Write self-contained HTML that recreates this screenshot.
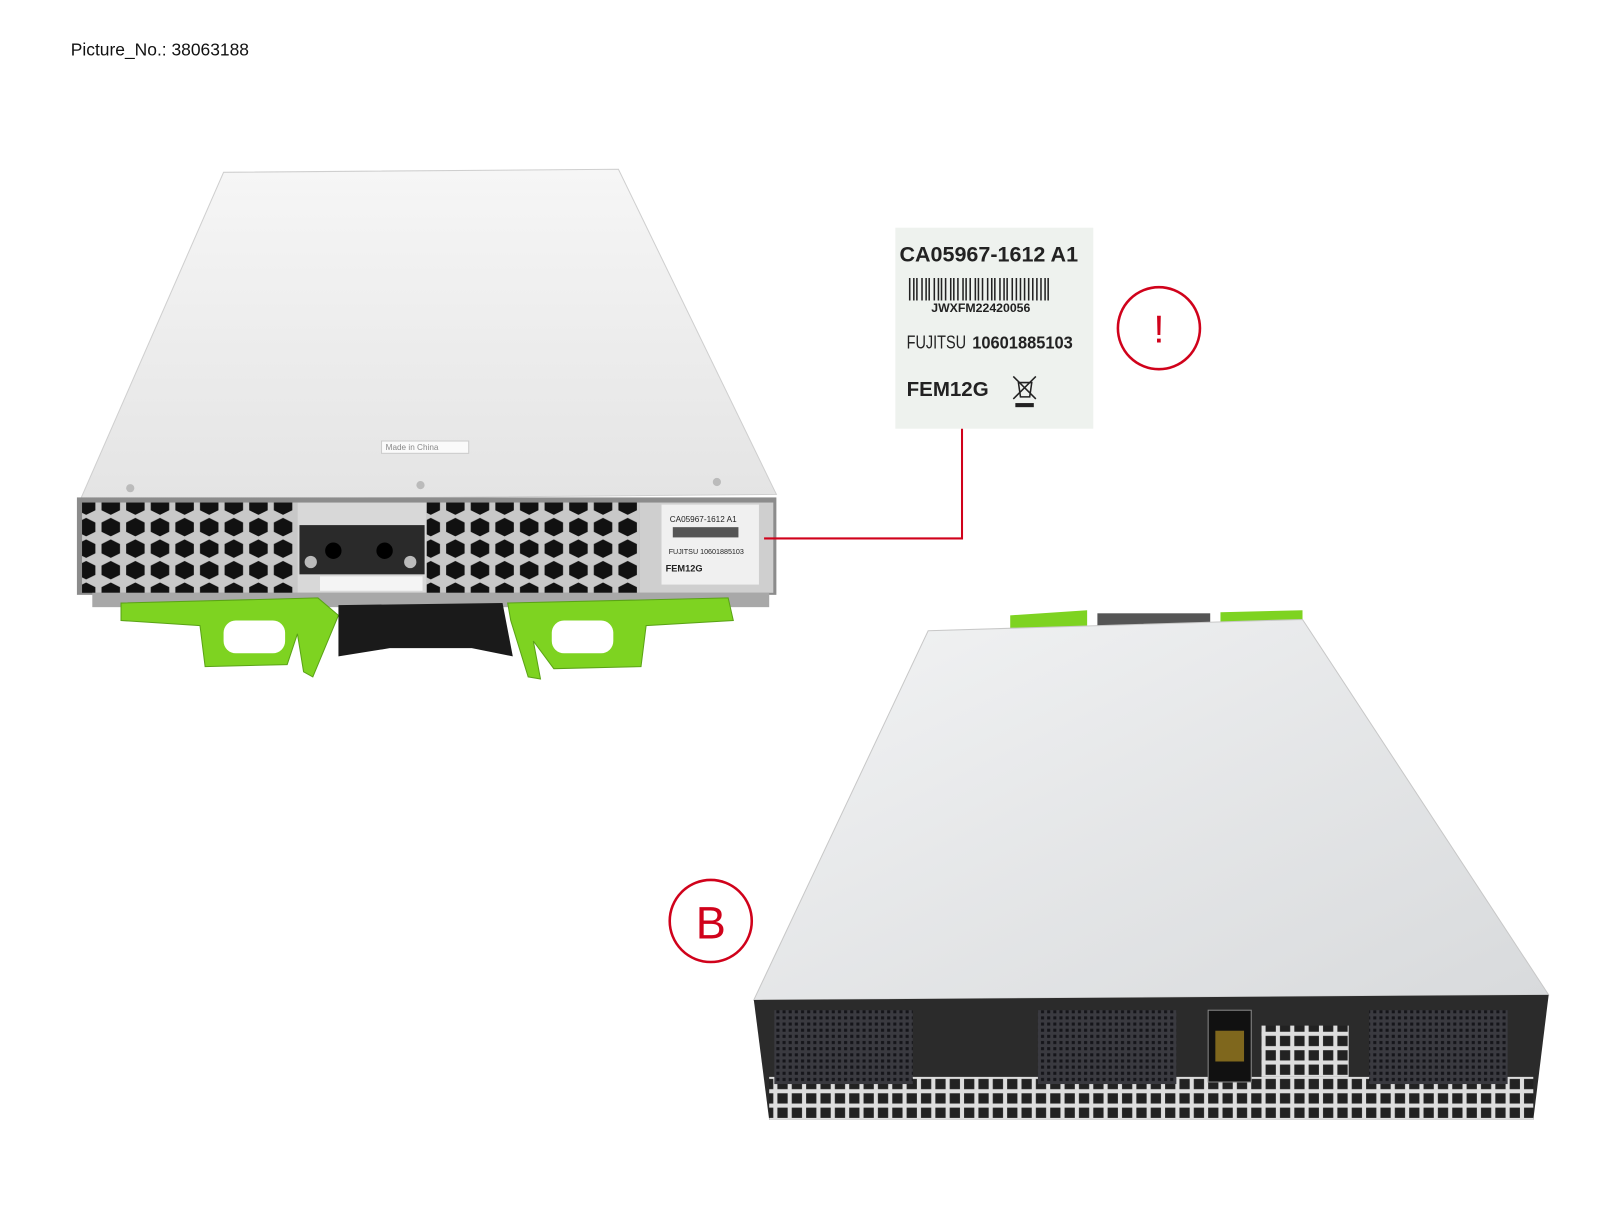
<!DOCTYPE html>
<html><head><meta charset="utf-8">
<style>
html,body{margin:0;padding:0;background:#fff;}
body{width:1600px;height:1200px;overflow:hidden;position:relative;font-family:"Liberation Sans",sans-serif;}
</style></head>
<body>
<svg width="1600" height="1200" viewBox="0 0 1600 1200" xmlns="http://www.w3.org/2000/svg">
<defs>
<linearGradient id="top1" x1="0" y1="0" x2="0" y2="1">
<stop offset="0" stop-color="#f6f6f6"/><stop offset="1" stop-color="#e4e4e4"/></linearGradient>
<linearGradient id="top2" x1="0" y1="0" x2="1" y2="1">
<stop offset="0" stop-color="#f2f3f4"/><stop offset="1" stop-color="#d8dadc"/></linearGradient>
<pattern id="hex" width="24" height="21" patternUnits="userSpaceOnUse">
<rect width="24" height="21" fill="#c8c8c8"/>
<polygon points="12,1 21,5.5 21,14.5 12,19 3,14.5 3,5.5" fill="#111"/>
</pattern>
<pattern id="grid" width="14" height="14" patternUnits="userSpaceOnUse">
<rect width="14" height="14" fill="#ddd"/><rect x="2" y="2" width="10" height="10" fill="#222"/>
</pattern>
<pattern id="conn" width="6" height="6" patternUnits="userSpaceOnUse">
<rect width="6" height="6" fill="#3a3a40"/><rect x="1" y="1" width="3" height="3" fill="#15151a"/>
</pattern>
</defs>
<g transform="scale(1.0256)">
<text x="69" y="54" font-size="17" fill="#111">Picture_No.: 38063188</text>

<polygon points="218,168 603,165 757,482 78,488" fill="url(#top1)" stroke="#cfcfcf"/>
<rect x="372" y="430" width="85" height="12" fill="#fafafa" stroke="#ccc"/>
<text x="376" y="439" font-size="8" fill="#888">Made in China</text>
<circle cx="127" cy="476" r="4" fill="#bbb"/><circle cx="410" cy="473" r="4" fill="#bbb"/><circle cx="699" cy="470" r="4" fill="#bbb"/>
<rect x="75" y="485" width="682" height="95" fill="#8c8c8c"/>
<rect x="80" y="490" width="210" height="88" fill="url(#hex)"/>
<rect x="416" y="490" width="208" height="88" fill="url(#hex)"/>
<rect x="290" y="490" width="126" height="88" fill="#d8d8d8"/>
<rect x="292" y="512" width="122" height="48" fill="#2a2a2a"/>
<circle cx="325" cy="537" r="8" fill="#000"/><circle cx="375" cy="537" r="8" fill="#000"/>
<circle cx="303" cy="548" r="6" fill="#bbb"/><circle cx="400" cy="548" r="6" fill="#bbb"/>
<rect x="312" y="562" width="100" height="14" fill="#f4f4f4"/>
<rect x="624" y="490" width="130" height="88" fill="#cfcfcf"/>
<rect x="645" y="492" width="95" height="78" fill="#f0f0f0"/>
<text x="653" y="509" font-size="8" fill="#222">CA05967-1612 A1</text>
<rect x="656" y="514" width="64" height="10" fill="#555"/>
<text x="652" y="540" font-size="7" fill="#222">FUJITSU 10601885103</text>
<text x="649" y="557" font-size="9" font-weight="bold" fill="#222">FEM12G</text>
<rect x="90" y="578" width="660" height="14" fill="#a8a8a8"/>
<path d="M118,588 L310,583 L330,600 L305,660 L296,655 L290,618 L280,648 L200,650 L195,610 L118,605 Z" fill="#7ed321" stroke="#5aa316"/>
<rect x="218" y="605" width="60" height="32" rx="12" fill="#fff"/>
<path d="M495,588 L710,583 L715,605 L630,610 L625,650 L540,652 L520,625 L527,662 L515,660 L498,605 Z" fill="#7ed321" stroke="#5aa316"/>
<rect x="538" y="605" width="60" height="32" rx="12" fill="#fff"/>
<path d="M330,590 L490,588 L500,640 L460,632 L380,632 L330,640 Z" fill="#1a1a1a"/>

<rect x="873" y="222" width="193" height="196" fill="#eef2ee"/>
<text x="877" y="255" font-size="21" font-weight="bold" fill="#222">CA05967-1612 A1</text>
<g stroke="#222" stroke-width="1.5">
<path d="M887 271v22M891 271v22M894 271v22M899 271v22M903 271v22M906 271v22M911 271v22M915 271v22M918 271v22M922 271v22M927 271v22M930 271v22M934 271v22M939 271v22M942 271v22M946 271v22M951 271v22M954 271v22M958 271v22M963 271v22M967 271v22M970 271v22M975 271v22M979 271v22M982 271v22M987 271v22M991 271v22M995 271v22M999 271v22M1003 271v22M1007 271v22M1011 271v22M1015 271v22M1019 271v22M1022 271v22"/>
</g>
<text x="908" y="304" font-size="12" font-weight="bold" fill="#222">JWXFM22420056</text>
<text x="884" y="340" font-size="18" fill="#222" textLength="58" lengthAdjust="spacingAndGlyphs">FUJITSU</text>
<text x="948" y="340" font-size="17" font-weight="bold" fill="#222" textLength="98" lengthAdjust="spacingAndGlyphs">10601885103</text>
<text x="884" y="386" font-size="20" font-weight="bold" fill="#222">FEM12G</text>
<g stroke="#222" stroke-width="1.5" fill="none">
<path d="M988 367l22 22M1010 367l-22 22"/><path d="M993 373h13l-2 14h-9z"/>
</g>
<rect x="990" y="393" width="18" height="4" fill="#222"/>
<polyline points="938,418 938,525 745,525" fill="none" stroke="#d0021b" stroke-width="2"/>
<circle cx="1130" cy="320" r="40" fill="#fff" stroke="#d0021b" stroke-width="2.5"/>
<text x="1130" y="334" font-size="38" fill="#d0021b" text-anchor="middle">!</text>

<path d="M985,600 L1060,595 L1060,612 L985,615 Z M1190,597 L1270,595 L1270,612 L1190,612 Z" fill="#7ed321"/>
<rect x="1070" y="598" width="110" height="12" fill="#555"/>
<polygon points="905,615 1270,604 1510,970 735,975" fill="url(#top2)" stroke="#c8c8c8"/>
<polygon points="735,975 1510,970 1495,1092 750,1092" fill="#2b2b2b"/>
<rect x="750" y="1050" width="745" height="42" fill="url(#grid)"/>
<rect x="1230" y="1000" width="85" height="50" fill="url(#grid)"/>
<rect x="755" y="985" width="135" height="72" fill="url(#conn)"/>
<rect x="1012" y="985" width="135" height="72" fill="url(#conn)"/>
<rect x="1335" y="985" width="135" height="72" fill="url(#conn)"/>
<rect x="1178" y="985" width="42" height="70" fill="#111" stroke="#888"/>
<rect x="1185" y="1005" width="28" height="30" fill="#c9a227" opacity="0.6"/>
<circle cx="693" cy="898" r="40" fill="#fff" stroke="#d0021b" stroke-width="2.5"/>
<text x="693" y="915" font-size="44" fill="#d0021b" text-anchor="middle">B</text>
</g>
</svg>
</body></html>
